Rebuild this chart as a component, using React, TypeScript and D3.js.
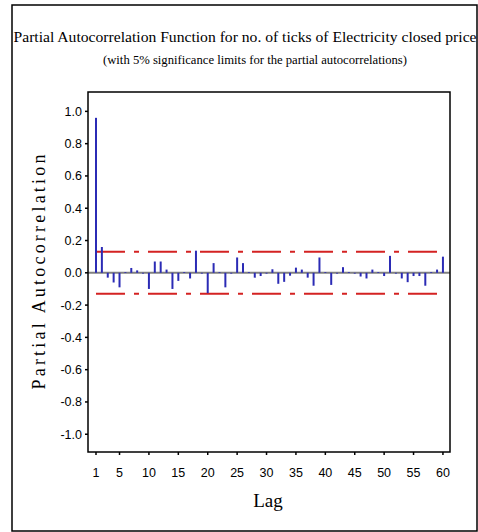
import React from "react";
import * as d3 from "d3";

const lags: number[] = Array.from({ length: 60 }, (_, i) => i + 1);
const pacf: number[] = [
  0.96, 0.16, -0.03, -0.06, -0.09, 0.005, 0.03, 0.015, -0.005, -0.1,
  0.07, 0.07, 0.02, -0.1, -0.05, 0.005, -0.035, 0.137, -0.005, -0.126,
  0.06, 0.005, -0.09, -0.005, 0.095, 0.06, 0.005, -0.03, -0.02, -0.005,
  0.022, -0.068, -0.056, -0.018, 0.032, 0.02, -0.03, -0.08, 0.095, 0.005,
  -0.075, -0.005, 0.035, 0.005, -0.005, -0.023, -0.035, 0.02, 0.005, -0.02,
  0.105, -0.005, -0.035, -0.058, -0.02, -0.02, -0.08, 0.005, 0.02, 0.1,
];
const limit = 0.13;
const xTicks: number[] = [1, 5, 10, 15, 20, 25, 30, 35, 40, 45, 50, 55, 60];
const yTicks: number[] = [1.0, 0.8, 0.6, 0.4, 0.2, 0.0, -0.2, -0.4, -0.6, -0.8, -1.0];

const titleText = "Partial Autocorrelation Function for no. of ticks of Electricity closed price";
const subtitleText = "(with 5% significance limits for the partial autocorrelations)";
const yLabel = "Partial Autocorrelation";
const xLabel = "Lag";

export default function App() {
  const W = 478, H = 532;
  const left = 88, right = 450, top = 92, bottom = 452;
  const x = d3.scaleLinear().domain([-0.36, 61.2]).range([left, right]);
  const y = d3.scaleLinear().domain([-1.11, 1.12]).range([bottom, top]);
  const sans = "'Liberation Sans', Arial, sans-serif";
  const serif = "'Liberation Serif', 'Times New Roman', serif";
  return (
    <svg width={W} height={H} style={{ position: "absolute", left: 0, top: 0, background: "#fff" }}>
      <rect x={0} y={0} width={W} height={H} fill="#fff" />
      <rect x={12} y={5} width={465} height={526} fill="none" stroke="#000" strokeWidth={1.5} />
      <text x={245} y={42} fontFamily={serif} fontSize={14.5} textAnchor="middle"
        textLength={463} lengthAdjust="spacingAndGlyphs">{titleText}</text>
      <text x={255} y={64} fontFamily={serif} fontSize={11.5} textAnchor="middle"
        textLength={304} lengthAdjust="spacingAndGlyphs">{subtitleText}</text>
      {/* zero line */}
      <line x1={left} x2={right} y1={y(0)} y2={y(0)} stroke="#808080" strokeWidth={2} />
      {/* significance limits */}
      {[limit, -limit].map((v) => (
        <line key={v} x1={x(1)} x2={x(60)} y1={y(v)} y2={y(v)} stroke="#d42222" strokeWidth={2}
          strokeDasharray="29,9,5,9" />
      ))}
      {/* bars */}
      {lags.map((l, i) => (
        <line key={l} x1={x(l)} x2={x(l)} y1={y(0)} y2={y(pacf[i])} stroke="#2b2bb5" strokeWidth={2} />
      ))}
      {/* plot frame */}
      <rect x={left} y={top} width={right - left} height={bottom - top} fill="none" stroke="#000" strokeWidth={1.5} />
      {/* y ticks */}
      {yTicks.map((t) => (
        <g key={t}>
          <line x1={left - 3} x2={left} y1={y(t)} y2={y(t)} stroke="#000" strokeWidth={1.5} />
          <text x={82} y={y(t) + 4.5} fontFamily={sans} fontSize={12.5} textAnchor="end">
            {t.toFixed(1)}
          </text>
        </g>
      ))}
      {/* x ticks */}
      {xTicks.map((t) => (
        <g key={t}>
          <line x1={x(t)} x2={x(t)} y1={bottom} y2={bottom + 3} stroke="#000" strokeWidth={1.5} />
          <text x={x(t)} y={477} fontFamily={sans} fontSize={12.5} textAnchor="middle">
            {t}
          </text>
        </g>
      ))}
      <text x={268} y={507} fontFamily={serif} fontSize={19} textAnchor="middle">{xLabel}</text>
      <text transform="translate(45,272) rotate(-90)" fontFamily={serif}
        fontSize={18} textAnchor="middle" textLength={235} lengthAdjust="spacing">{yLabel}</text>
    </svg>
  );
}
